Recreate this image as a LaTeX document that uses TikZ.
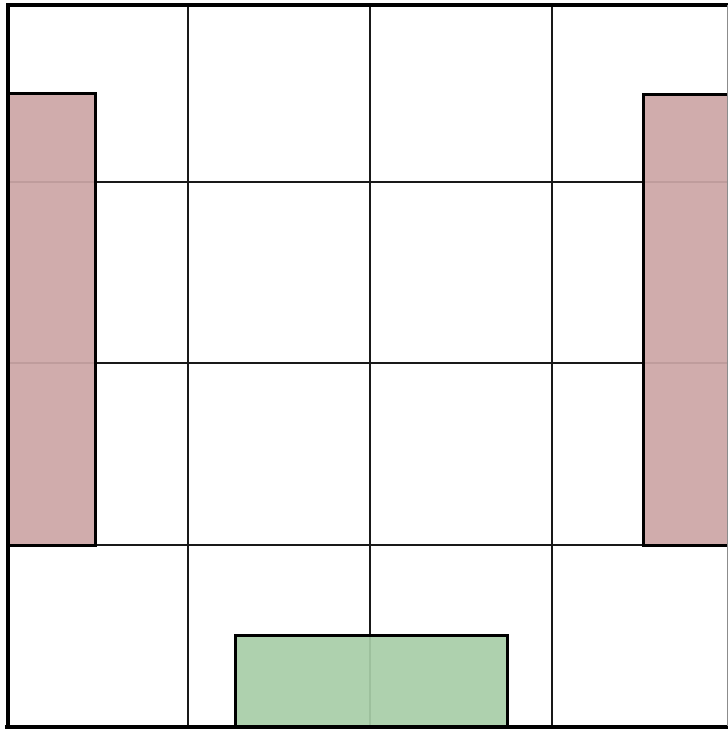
\documentclass[tikz,border=0pt]{standalone}
\usepackage{xcolor}
\usepackage{tikz}
\usetikzlibrary{positioning,calc}

\definecolor{wallred}{RGB}{204,166,166}
\definecolor{floorgreen}{RGB}{168,205,168}

\begin{document}
\begin{tikzpicture}[
        x=1pt, y=-1pt,
        gridline/.style={draw=black!90, line width=1.2pt},
        frame/.style={draw=black, line width=4pt},
        block/.style={draw=black, line width=3pt, fill opacity=0.93},
        redblock/.style={block, fill=wallred},
        greenblock/.style={block, fill=floorgreen}
    ]
    \useasboundingbox (0,0) rectangle (728,729);

    % grid
    \foreach \gx in {188,370,552}
        \draw[gridline] (\gx,5) -- (\gx,726);
    \foreach \gy in {182,363,545}
        \draw[gridline] (8,\gy) -- (728,\gy);

    % blocks
    \draw[redblock] (8,93) rectangle (95,545);
    \draw[redblock] (643,94) rectangle (732,545);
    \draw[greenblock] (235,635) rectangle (507,726);

    % outer frame
    \draw[frame] (8,726) -- (8,4.5) -- (730,4.5);
    \draw[frame] (5,726.5) -- (730,726.5);
    \draw[draw=black!45, line width=1pt] (727.5,5) -- (727.5,726);
\end{tikzpicture}
\end{document}
